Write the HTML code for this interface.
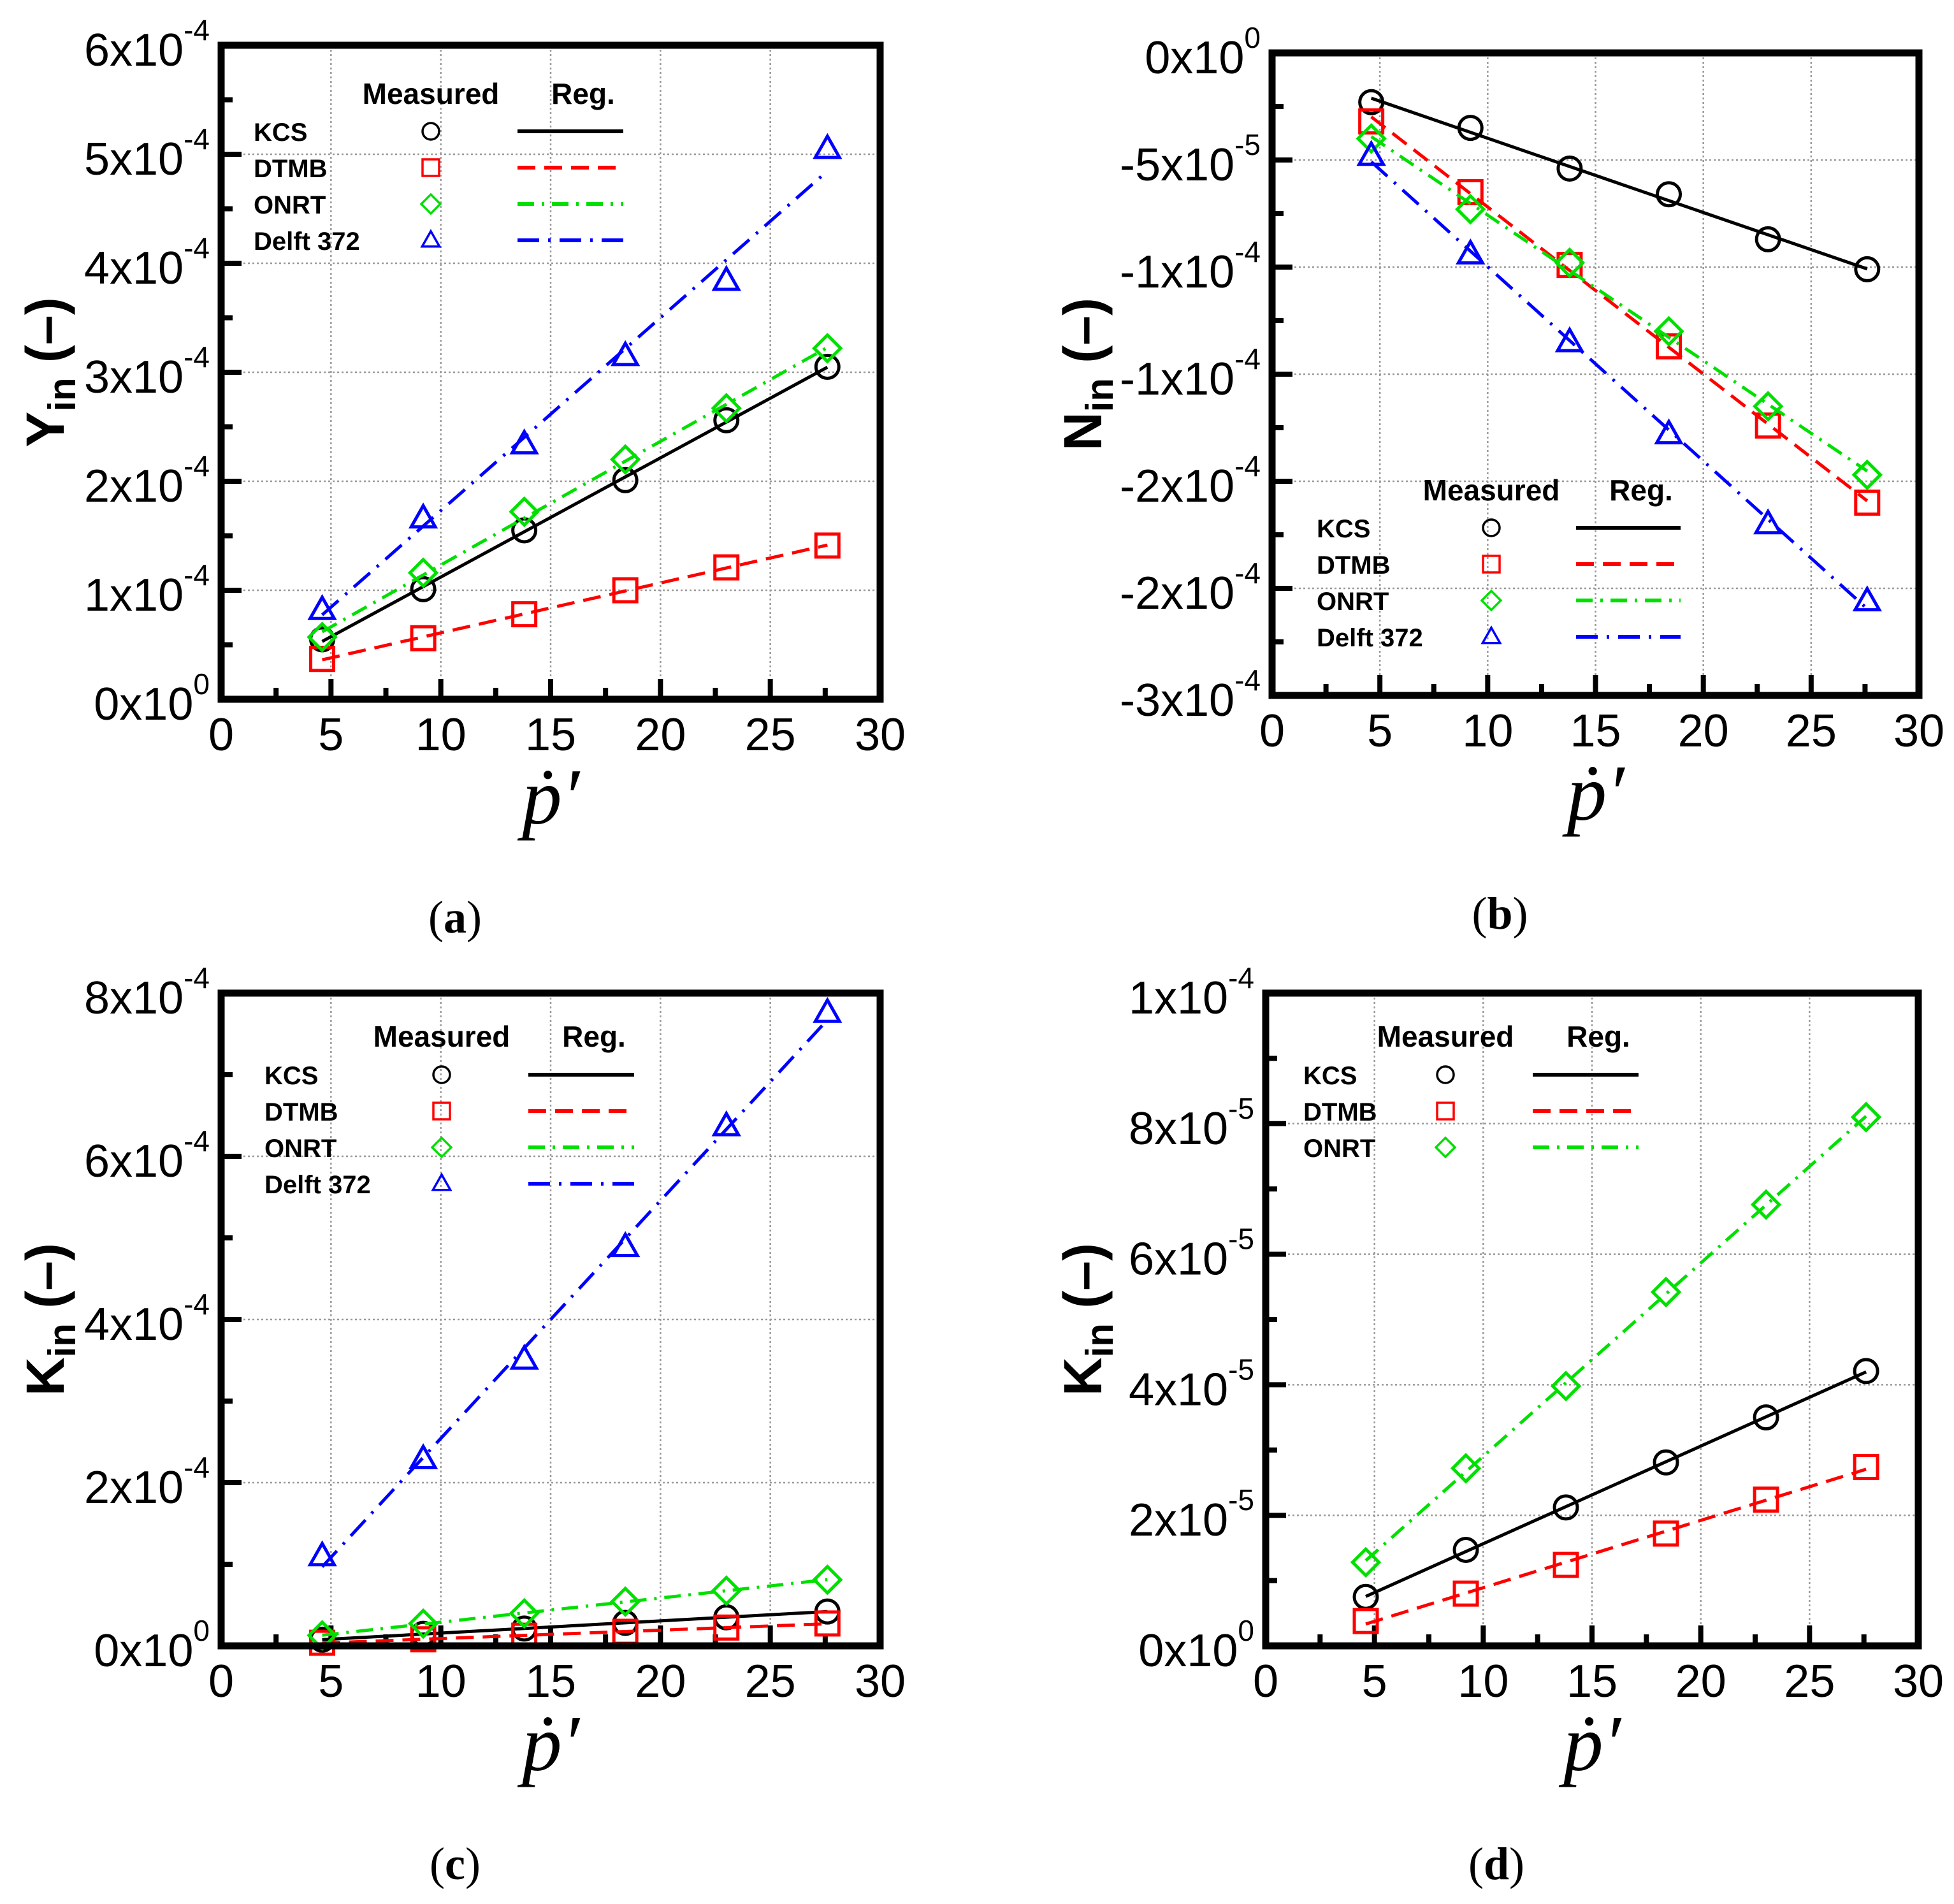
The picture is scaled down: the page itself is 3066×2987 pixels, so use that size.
<!DOCTYPE html>
<html><head><meta charset="utf-8"><style>
html,body{margin:0;padding:0;background:#fff;}
svg{display:block;}
</style></head><body>
<svg id="fig" xmlns="http://www.w3.org/2000/svg" width="3066" height="2987" viewBox="0 0 3066 2987"></svg>
<script>
// ---- data ----
const xVals = [4.6, 9.2, 13.8, 18.4, 23.0, 27.6];
// panel a: Y_in
const aKCS   = [0.55e-4, 1.01e-4, 1.55e-4, 2.01e-4, 2.56e-4, 3.05e-4];
const aDTMB  = [0.37e-4, 0.56e-4, 0.78e-4, 1.00e-4, 1.21e-4, 1.41e-4];
const aONRT  = [0.57e-4, 1.16e-4, 1.72e-4, 2.20e-4, 2.67e-4, 3.22e-4];
const aDelft = [0.82e-4, 1.66e-4, 2.34e-4, 3.15e-4, 3.84e-4, 5.05e-4];
// panel b: N_in
const bKCS   = [-2.3e-5, -3.5e-5, -5.4e-5, -6.6e-5, -8.7e-5, -1.01e-4];
const bDTMB  = [-3.2e-5, -6.5e-5, -9.9e-5, -1.37e-4, -1.74e-4, -2.10e-4];
const bONRT  = [-4.0e-5, -7.3e-5, -9.8e-5, -1.30e-4, -1.65e-4, -1.97e-4];
const bDelft = [-4.8e-5, -9.4e-5, -1.35e-4, -1.78e-4, -2.20e-4, -2.56e-4];
// panel c/d: K_in
const kKCS   = [0.75e-5, 1.47e-5, 2.12e-5, 2.81e-5, 3.50e-5, 4.21e-5];
const kDTMB  = [0.38e-5, 0.80e-5, 1.24e-5, 1.72e-5, 2.24e-5, 2.74e-5];
const kONRT  = [1.28e-5, 2.72e-5, 3.98e-5, 5.42e-5, 6.76e-5, 8.10e-5];
const cDelft = [1.10e-4, 2.29e-4, 3.51e-4, 4.89e-4, 6.37e-4, 7.76e-4];
// tick labels
const xTicks = [0, 5, 10, 15, 20, 25, 30];
const aYTicks = [[0,'0','0'],[1e-4,'1','-4'],[2e-4,'2','-4'],[3e-4,'3','-4'],[4e-4,'4','-4'],[5e-4,'5','-4'],[6e-4,'6','-4']];
const bYTicks = [[0,'0','0'],[-5e-5,'-5','-5'],[-1e-4,'-1','-4'],[-1.5e-4,'-1','-4'],[-2e-4,'-2','-4'],[-2.5e-4,'-2','-4'],[-3e-4,'-3','-4']];
const cYTicks = [[0,'0','0'],[2e-4,'2','-4'],[4e-4,'4','-4'],[6e-4,'6','-4'],[8e-4,'8','-4']];
const dYTicks = [[0,'0','0'],[2e-5,'2','-5'],[4e-5,'4','-5'],[6e-5,'6','-5'],[8e-5,'8','-5'],[1e-4,'1','-4']];

const NS = 'http://www.w3.org/2000/svg';
const fig = document.getElementById('fig');
function el(tag, attrs, parent) {
  const e = document.createElementNS(NS, tag);
  for (const k in attrs) e.setAttribute(k, attrs[k]);
  (parent || fig).appendChild(e);
  return e;
}
const styles = {
  KCS:   {color:'#000000', dash:'', marker:'circle'},
  DTMB:  {color:'#ff0000', dash:'28 14', marker:'square'},
  ONRT:  {color:'#00e000', dash:'26 12 4 12', marker:'diamond'},
  Delft: {color:'#0000ff', dash:'34 14 4 14', marker:'triangle'}
};
function marker(g, type, cx, cy, r, color, sw) {
  let m;
  if (type === 'circle') m = el('circle', {cx:cx, cy:cy, r:r, fill:'none', stroke:color, 'stroke-width':sw}, g);
  else if (type === 'square') m = el('rect', {x:cx-r, y:cy-r, width:2*r, height:2*r, fill:'none', stroke:color, 'stroke-width':sw}, g);
  else if (type === 'diamond') m = el('polygon', {points:`${cx},${cy-r*1.15} ${cx+r*1.15},${cy} ${cx},${cy+r*1.15} ${cx-r*1.15},${cy}`, fill:'none', stroke:color, 'stroke-width':sw}, g);
  else m = el('polygon', {points:`${cx},${cy-r*1.1} ${cx+r*1.05},${cy+r*0.75} ${cx-r*1.05},${cy+r*0.75}`, fill:'none', stroke:color, 'stroke-width':sw}, g);
  return m;
}
function fit(xs, ys) {
  const n = xs.length; let sx=0, sy=0, sxx=0, sxy=0;
  for (let i=0;i<n;i++){sx+=xs[i];sy+=ys[i];sxx+=xs[i]*xs[i];sxy+=xs[i]*ys[i];}
  const b = (n*sxy - sx*sy)/(n*sxx - sx*sx); const a = (sy - b*sx)/n;
  return [a, b];
}

function panel(cfg) {
  const g = el('g', {});
  
  
  const X = v => cfg.x0 + (v - 0) / 30 * (cfg.x1 - cfg.x0);
  const Y = v => cfg.yb + (v - cfg.ymin) / (cfg.ymax - cfg.ymin) * (cfg.yt - cfg.yb);
  const grid = el('g', {stroke:'#999', 'stroke-width':2.5, 'stroke-dasharray':'3 4'}, g);
  
  
  xTicks.forEach(t => { if (t>0 && t<30) el('line', {x1:X(t), x2:X(t), y1:cfg.yt, y2:cfg.yb}, grid); });
  cfg.yticks.forEach(t => { const y = Y(t[0]); if (Math.abs(y-cfg.yt)>3 && Math.abs(y-cfg.yb)>3) el('line', {x1:cfg.x0, x2:cfg.x1, y1:y, y2:y}, grid); });
  const tk = el('g', {stroke:'#000', 'stroke-width':8}, g);
  xTicks.forEach(t => el('line', {x1:X(t), x2:X(t), y1:cfg.yb, y2:cfg.yb-32}, tk));
  for (let t=2.5; t<30; t+=5) el('line', {x1:X(t), x2:X(t), y1:cfg.yb, y2:cfg.yb-18}, tk);
  const ys = cfg.yticks.map(t=>t[0]);
  const step = ys[1]-ys[0];
  ys.forEach(v => el('line', {x1:cfg.x0, x2:cfg.x0+32, y1:Y(v), y2:Y(v)}, tk));
  for (let i=0;i<ys.length-1;i++) el('line', {x1:cfg.x0, x2:cfg.x0+18, y1:Y(ys[i]+step/2), y2:Y(ys[i]+step/2)}, tk);
  xTicks.forEach(t => {
    const tx = el('text', {x:X(t), y:cfg.yb+80, 'font-size':72, 'text-anchor':'middle', 'font-family':'Liberation Sans, sans-serif'}, g);
    
    
    tx.textContent = t;
  });
  cfg.yticks.forEach(t => {
    const tx = el('text', {x:cfg.x0-18, y:Y(t[0])+32, 'font-size':72, 'text-anchor':'end', 'font-family':'Liberation Sans, sans-serif'}, g);
    
    
    tx.appendChild(document.createTextNode(t[1] + 'x10'));
    const sp = el('tspan', {dy:-40, 'font-size':46}, tx);
    sp.textContent = t[2];
  });
  cfg.series.forEach(s => {
    const st = styles[s.key];
    const sg = el('g', {}, g);
    
    
    const [a, b] = fit(xVals, s.vals);
    const xa = xVals[0], xb = xVals[xVals.length-1];
    const ln = el('line', {x1:X(xa), y1:Y(a+b*xa), x2:X(xb), y2:Y(a+b*xb), stroke:st.color, 'stroke-width':5}, sg);
    if (st.dash) ln.setAttribute('stroke-dasharray', st.dash);
    
    
    xVals.forEach((xv, i) => {
      const m = marker(sg, st.marker, X(xv), Y(s.vals[i]), 18, st.color, 5);
      
      
    });
  });
  const fr = el('rect', {x:cfg.x0, y:cfg.yt, width:cfg.x1-cfg.x0, height:cfg.yb-cfg.yt, fill:'none', stroke:'#000', 'stroke-width':11}, g);
  
  
  const L = cfg.leg;
  const lg = el('g', {'font-family':'Liberation Sans, sans-serif', 'font-weight':'bold'}, g);
  
  
  const h1 = el('text', {x:L.mx, y:L.hy, 'font-size':46, 'text-anchor':'middle'}, lg); h1.textContent = 'Measured';
   
  const h2 = el('text', {x:(L.l1+L.l2)/2+20, y:L.hy, 'font-size':46, 'text-anchor':'middle'}, lg); h2.textContent = 'Reg.';
   
  cfg.series.forEach((s, i) => {
    const st = styles[s.key];
    const y = L.ry + i*57;
    const e = el('g', {}, lg);
    
    
    const t = el('text', {x:L.nx, y:y+15, 'font-size':40}, e); t.textContent = s.label;
    marker(e, st.marker, L.mx, y, 13, st.color, 3.5);
    const ln = el('line', {x1:L.l1, x2:L.l2, y1:y, y2:y, stroke:st.color, 'stroke-width':6}, e);
    if (st.dash) ln.setAttribute('stroke-dasharray', st.dash);
  });
  const yt = el('text', {transform:`translate(${cfg.ytx},${(cfg.yt+cfg.yb)/2}) rotate(-90)`, 'font-size':84, 'font-weight':'bold', 'text-anchor':'middle', 'font-family':'Liberation Sans, sans-serif'}, g);
   
  yt.appendChild(document.createTextNode(cfg.ylab));
  const sub = el('tspan', {dy:18, 'font-size':60}, yt); sub.textContent = 'in';
  const rest = el('tspan', {dy:-18}, yt); rest.textContent = ' (–)';
  const xt = el('text', {x:(cfg.x0+cfg.x1)/2, y:cfg.yb+195, 'font-size':125, 'font-style':'italic', 'text-anchor':'middle', 'font-family':'Liberation Serif, serif'}, g);
   
  xt.textContent = 'ṗ′';
  const cap = el('text', {x:(cfg.x0+cfg.x1)/2 - 150, y:cfg.yb+366, 'font-size':72, 'text-anchor':'middle', 'font-family':'Liberation Serif, serif'}, g);
   
  cap.appendChild(document.createTextNode('('));
  const bl = el('tspan', {'font-weight':'bold'}, cap); bl.textContent = cfg.cap;
  cap.appendChild(document.createTextNode(')'));
}

panel({name:'panel-a-yin', x0:347, x1:1381, yt:71, yb:1097, ymin:0, ymax:6e-4, yticks:aYTicks, ylab:'Y', ytx:100, cap:'a',
  series:[{key:'KCS',label:'KCS',vals:aKCS},{key:'DTMB',label:'DTMB',vals:aDTMB},{key:'ONRT',label:'ONRT',vals:aONRT},{key:'Delft',label:'Delft 372',vals:aDelft}],
  leg:{nx:398, mx:676, l1:812, l2:978, hy:163, ry:206}});
panel({name:'panel-b-nin', x0:1996, x1:3011, yt:83, yb:1091, ymin:-3e-4, ymax:0, yticks:bYTicks, ylab:'N', ytx:1728, cap:'b',
  series:[{key:'KCS',label:'KCS',vals:bKCS},{key:'DTMB',label:'DTMB',vals:bDTMB},{key:'ONRT',label:'ONRT',vals:bONRT},{key:'Delft',label:'Delft 372',vals:bDelft}],
  leg:{nx:2066, mx:2340, l1:2473, l2:2637, hy:785, ry:828}});
panel({name:'panel-c-kin', x0:347, x1:1381, yt:1558, yb:2582, ymin:0, ymax:8e-4, yticks:cYTicks, ylab:'K', ytx:100, cap:'c',
  series:[{key:'KCS',label:'KCS',vals:kKCS},{key:'DTMB',label:'DTMB',vals:kDTMB},{key:'ONRT',label:'ONRT',vals:kONRT},{key:'Delft',label:'Delft 372',vals:cDelft}],
  leg:{nx:415, mx:693, l1:829, l2:995, hy:1642, ry:1686}});
panel({name:'panel-d-kin', x0:1986, x1:3010, yt:1558, yb:2582, ymin:0, ymax:1e-4, yticks:dYTicks, ylab:'K', ytx:1728, cap:'d',
  series:[{key:'KCS',label:'KCS',vals:kKCS},{key:'DTMB',label:'DTMB',vals:kDTMB},{key:'ONRT',label:'ONRT',vals:kONRT}],
  leg:{nx:2045, mx:2268, l1:2405, l2:2571, hy:1642, ry:1686}});
</script>
</body></html>
